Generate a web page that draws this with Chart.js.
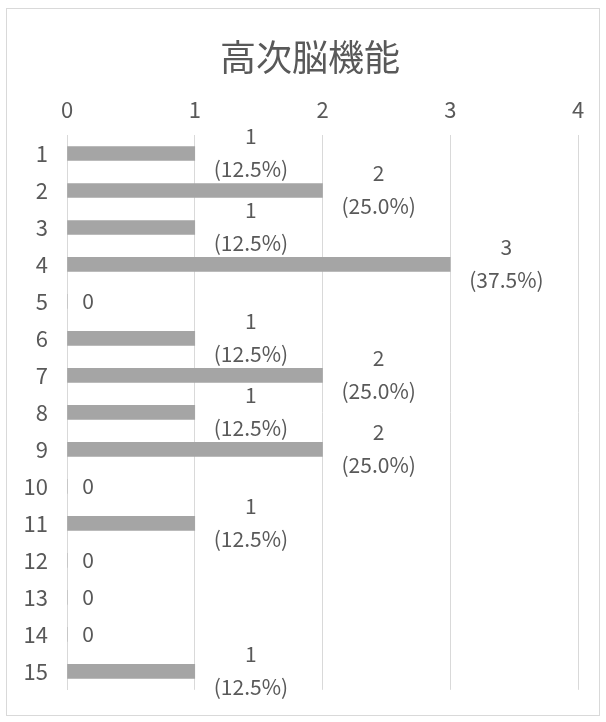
<!DOCTYPE html>
<html>
<head>
<meta charset="utf-8">
<script src="https://cdn.jsdelivr.net/npm/chart.js@4"></script>
<style>
  html, body { margin: 0; padding: 0; background: #fff; }
  #wrap { position: absolute; left: 0; top: 0; width: 606px; height: 722px; }
</style>
</head>
<body>
<div id="wrap"><canvas id="chart" width="606" height="722"></canvas></div>
<script>
// 高次脳機能 - 件数と割合
const chartTitle = '高次脳機能';
const categories = ['1','2','3','4','5','6','7','8','9','10','11','12','13','14','15'];
const counts = [1, 2, 1, 3, 0, 1, 2, 1, 2, 0, 1, 0, 0, 0, 1];
const percents = ['12.5', '25.0', '12.5', '37.5', '', '12.5', '25.0', '12.5', '25.0', '', '12.5', '', '', '', '12.5'];
const xTicks = [0, 1, 2, 3, 4];

const FONT = '"Noto Sans CJK JP", "Noto Sans", sans-serif';
const TEXT = '#595959';
const GRID = '#d9d9d9';

// 外枠とタイトル
const frame = {
  id: 'frame',
  beforeDraw(chart) {
    const c = chart.ctx;
    c.save();
    c.fillStyle = '#fff';
    c.fillRect(0, 0, chart.width, chart.height);
    c.strokeStyle = GRID;
    c.lineWidth = 1;
    c.strokeRect(6.5, 8.5, 593, 707);
    c.font = '36px ' + FONT;
    c.fillStyle = TEXT;
    c.textAlign = 'center';
    c.textBaseline = 'middle';
    c.fillText(chartTitle, 310, 57);
    c.restore();
  }
};

// データラベル: 値 + (割合)
const barLabels = {
  id: 'barLabels',
  afterDatasetsDraw(chart) {
    const c = chart.ctx;
    const meta = chart.getDatasetMeta(0);
    c.save();
    c.font = '21px ' + FONT;
    c.fillStyle = TEXT;
    c.textAlign = 'center';
    c.textBaseline = 'middle';
    meta.data.forEach((bar, i) => {
      const lines = [String(counts[i])];
      if (percents[i]) lines.push('(' + percents[i] + '%)');
      const w = Math.max(...lines.map(t => c.measureText(t).width));
      const cx = bar.x + 19 + w / 2;
      if (lines.length === 1) {
        c.fillText(lines[0], bar.x + 21, bar.y);
      } else {
        c.fillText(lines[0], cx, bar.y - 17);
        c.fillText(lines[1], cx, bar.y + 16);
      }
    });
    c.restore();
  }
};

new Chart(document.getElementById('chart'), {
  type: 'bar',
  data: {
    labels: categories,
    datasets: [{
      data: counts,
      backgroundColor: '#a5a5a5',
      barThickness: 14
    }]
  },
  options: {
    indexAxis: 'y',
    responsive: false,
    animation: false,
    layout: { padding: { left: 0, right: 28, top: 79, bottom: 24 } },
    plugins: {
      legend: { display: false },
      tooltip: { enabled: false },
      title: { display: false }
    },
    scales: {
      x: {
        position: 'top',
        min: 0,
        max: 4,
        afterBuildTicks(scale) { scale.ticks = xTicks.map(v => ({ value: v })); },
        afterFit(scale) { scale.height = 135 - 79; },
        grid: { color: GRID, drawTicks: false },
        border: { display: false },
        ticks: { color: TEXT, padding: 12, font: { family: FONT, size: 22 } }
      },
      y: {
        afterFit(scale) { scale.width = 67; },
        grid: { display: false, drawTicks: false },
        border: { display: true, color: GRID },
        ticks: { color: TEXT, padding: 19, font: { family: FONT, size: 22 } }
      }
    }
  },
  plugins: [frame, barLabels]
});
</script>
</body>
</html>
